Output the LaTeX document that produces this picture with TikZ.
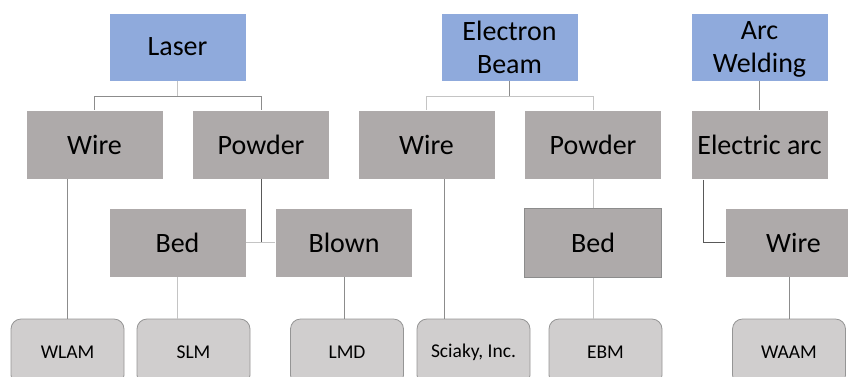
\documentclass[tikz,border=0pt]{standalone}
\usepackage{fontspec}
\setmainfont{Carlito}
\usetikzlibrary{positioning,calc}
\definecolor{topblue}{HTML}{8FAADC}
\definecolor{midgray}{HTML}{AEAAAA}
\definecolor{leafgray}{HTML}{D0CECE}
\definecolor{leafedge}{HTML}{959595}
\definecolor{linkmid}{HTML}{8C8C8C}
\definecolor{linklt}{HTML}{C4C4C4}
\definecolor{linkdk}{HTML}{595959}
\tikzset{every node/.append style={align=center}}

\begin{document}
\begin{tikzpicture}[x=1pt, y=-1pt,
  process/.style={fill=topblue, draw=white, line width=0.6pt, minimum width=137pt, minimum height=68pt, inner sep=2pt, text depth=0pt, font=\fontsize{28}{33}\selectfont},
  source/.style={fill=midgray, draw=white, line width=0.6pt, minimum width=137pt, minimum height=69pt, inner sep=2pt, font=\fontsize{28}{33}\selectfont},
  leaf/.style={fill=leafgray, draw=leafedge, line width=0.8pt, rounded corners=10pt, minimum width=113pt, minimum height=66pt, font=\fontsize{19.5}{23}\selectfont},
  link/.style={draw=linkmid, line width=1pt},
  linklight/.style={draw=linklt, line width=1pt},
  linkdark/.style={draw=linkdk, line width=1pt}]
  \useasboundingbox (0,0) rectangle (848,376);
  \clip (0,0) rectangle (848,376);

  % laser branch
  \node[process] (laser) at (177.5,47) {Laser};
  \node[source] (lwire) at (94.5,144.5) {Wire};
  \node[source, right=29pt of lwire] (lpowder) {Powder};
  \node[source] (lbed) at (177.5,242.5) {Bed};
  \node[source, right=29pt of lbed] (lblown) {Blown};

  % electron beam branch
  \node[process] (ebeam) at (509.5,47) {Electron\\Beam};
  \node[source] (ewire) at (426.5,144.5) {Wire};
  \node[source, right=29pt of ewire] (epowder) {Powder};
  \node[source, draw=linkmid, below=29pt of epowder] (ebed) {Bed};

  % arc welding branch
  \node[process] (arc) at (759.5,47) {Arc\\Welding};
  \node[source, below=29pt of arc] (earc) {Electric arc};
  \node[source] (awire) at (793.5,242.5) {Wire};

  % processes
  \node[leaf] (wlam) at (67.5,352) {WLAM};
  \node[leaf] (slm) at (193.5,352) {SLM};
  \node[leaf] (lmd) at (347,352) {LMD};
  \node[leaf] (sciaky) at (473.5,352) {Sciaky, Inc.};
  \node[leaf] (ebm) at (605.5,352) {EBM};
  \node[leaf] (waam) at (789,352) {WAAM};

  \coordinate (lfork) at ($(laser.south)+(0,15)$);
  \coordinate (efork) at ($(ebeam.south)+(0,15)$);
  \draw[linklight] (laser.south) -- (lfork);
  \draw[link] (lfork) -| (lwire.north);
  \draw[link] (lfork) -| (lpowder.north);
  \draw[link] (lwire.south -| wlam.north) -- (wlam.north);
  \draw[linkdark] (lpowder.south) -- (lpowder.south |- lbed.east);
  \draw[linklight] (lbed.east) -- (lblown.west);
  \draw[linklight] (lbed.south) -- (lbed.south |- slm.north);
  \draw[link] (lblown.south) -- (lblown.south |- lmd.north);

  \draw[link] (ebeam.south) -- (efork);
  \draw[linklight] (efork) -| (ewire.north);
  \draw[linklight] (efork) -| (epowder.north);
  \draw[link] ([xshift=18pt]ewire.south) -- ([xshift=18pt]ewire.south |- sciaky.north);
  \draw[linklight] (epowder.south) -- (ebed.north);
  \draw[linklight] (ebed.south) -- (ebed.south |- ebm.north);

  \draw[link] (arc.south) -- (earc.north);
  \draw[linkdark] ([xshift=13pt]earc.south west) |- (awire.west);
  \draw[link] (awire.south -| waam.north) -- (waam.north);
\end{tikzpicture}
\end{document}
